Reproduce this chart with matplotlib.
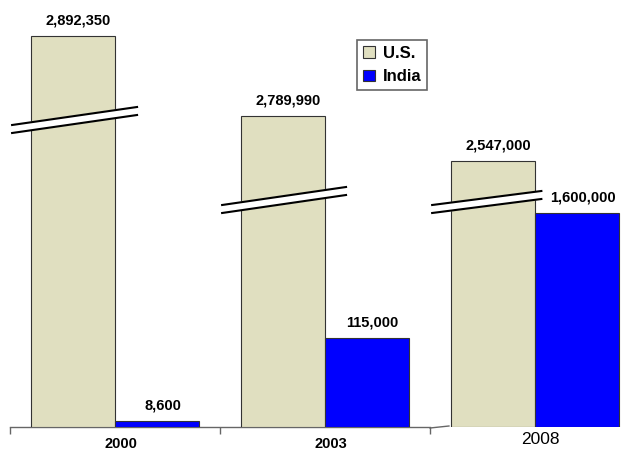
import numpy as np
import matplotlib
matplotlib.use("Agg")
import matplotlib.pyplot as plt
from matplotlib.transforms import blended_transform_factory

# chart data
years = ["2000", "2003", "2008"]
us_jobs = [2892350, 2789990, 2547000]
india_jobs = [8600, 115000, 1600000]

# the original chart is not to scale (broken bars), so use a
# piecewise scale: value -> height in pixels above the baseline
scale_values = [0, 8600, 115000, 1600000, 2547000, 2789990, 2892350, 3000000]
scale_heights = [0, 6, 89, 214, 266, 311, 391, 427]

def forward(v):
    return np.interp(v, scale_values, scale_heights)

def inverse(h):
    return np.interp(h, scale_heights, scale_values)

plt.rcParams["font.family"] = ["Liberation Sans", "DejaVu Sans"]

fig = plt.figure(figsize=(6.26, 4.57), dpi=100)
ax = fig.add_axes([10 / 626, 30 / 457, 616 / 626, 427 / 457])
ax.set_yscale("function", functions=(forward, inverse))
ax.set_ylim(0, 3000000)
ax.set_xlim(-0.5, 2.433)

x = np.arange(len(years))
w = 0.4
ax.bar(x - w / 2, us_jobs, w, color="#E0DFC0", edgecolor="#333333", linewidth=0.8, label="U.S.", zorder=2)
ax.bar(x + w / 2, india_jobs, w, color="#0000FF", edgecolor="#333333", linewidth=0.8, label="India", zorder=2)

# value labels
for xi, v in zip(x - w / 2, us_jobs):
    ax.annotate(f"{v:,}", (xi, v), xytext=(4, 8), textcoords="offset points",
                ha="center", va="baseline", fontsize=10.5, fontweight="bold")
for xi, v in zip(x + w / 2, india_jobs):
    ax.annotate(f"{v:,}", (xi, v), xytext=(4, 8), textcoords="offset points",
                ha="center", va="baseline", fontsize=10.5, fontweight="bold")

# axis: only spans the first two groups
for s in ax.spines.values():
    s.set_visible(False)
ax.set_yticks([])
ax.set_xticks([])
ax.set_xticks([-0.5, 0.5, 1.5], minor=True)
ax.tick_params(axis="x", which="minor", length=5, width=1, color="#666666", direction="out",
               labelbottom=False)
trans = blended_transform_factory(ax.transData, ax.transAxes)
ax.plot([-0.5, 1.5], [0, 0], color="#666666", lw=1, transform=trans, clip_on=False, zorder=1)
ax.plot([1.5, 1.59], [-1 / 427, 1 / 427], color="#666666", lw=1, transform=trans, clip_on=False, zorder=1)

# year labels
for i, yr in enumerate(years):
    if i < 2:
        ax.annotate(yr, (i, 0), xycoords=trans, xytext=(4, -7), textcoords="offset points",
                    ha="center", va="top", fontsize=10.5, fontweight="bold")
    else:
        ax.annotate(yr, (i, 0), xycoords=trans, xytext=(4, -3.5), textcoords="offset points",
                    ha="center", va="top", fontsize=12.5)

# break marks across the U.S. bars (x0, x1 in data, left/right height in px)
breaks = [(-0.49, 0.105, 302, 320), (-0.49, 0.10, 222, 240), (-0.49, 0.03, 222, 236)]
gap = 8
for i, (x0, x1, yl, yr) in enumerate(breaks):
    xs = [i + x0, i + x1, i + x1, i + x0]
    ys = [(yl - gap) / 427, (yr - gap) / 427, yr / 427, yl / 427]
    ax.fill(xs, ys, color="white", transform=trans, zorder=3, clip_on=False)
    ax.plot([i + x0, i + x1], [yl / 427, yr / 427], color="black", lw=1.5, transform=trans, zorder=4, clip_on=False)
    ax.plot([i + x0, i + x1], [(yl - gap) / 427, (yr - gap) / 427], color="black", lw=1.5, transform=trans, zorder=4, clip_on=False)

leg = ax.legend(loc="upper left", bbox_to_anchor=(357 / 626, 1 - 40 / 457), bbox_transform=fig.transFigure,
                fancybox=False, edgecolor="#666666", framealpha=1, handlelength=0.7, handleheight=0.7,
                borderpad=0.35, labelspacing=0.5, handletextpad=0.5, borderaxespad=0,
                prop={"weight": "bold", "size": 12})
leg.get_frame().set_linewidth(1.2)

fig.savefig("out.png", dpi=100)
